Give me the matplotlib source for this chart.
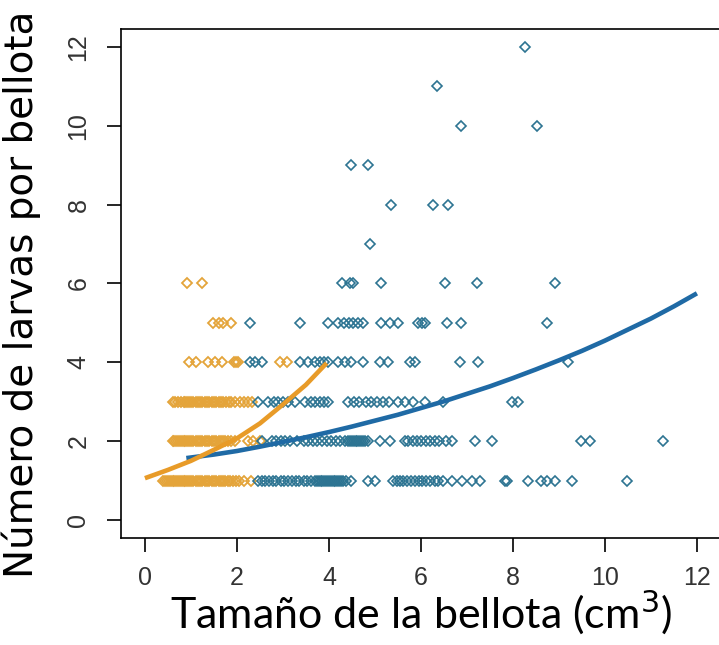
import matplotlib
matplotlib.use("Agg")
import matplotlib.pyplot as plt

# acorn size (cm3) of each point, grouped by number of larvae per acorn
orange_1 = [0.40, 0.44, 0.48, 0.52, 0.56, 0.60, 0.64, 0.68, 0.72, 0.76, 0.80, 0.84,
            0.88, 0.92, 0.96, 1.00, 1.05, 1.10, 1.15, 1.20, 1.25, 1.30, 1.35, 1.40,
            1.45, 1.50, 1.55, 1.60, 1.65, 1.70, 1.75, 1.80, 1.86, 1.92, 1.98, 2.05,
            2.15, 2.30]
orange_2 = [0.60, 0.64, 0.68, 0.72, 0.76, 0.80, 0.84, 0.88, 0.92, 0.96, 1.00, 1.05,
            1.10, 1.15, 1.20, 1.25, 1.30, 1.35, 1.40, 1.45, 1.50, 1.55, 1.60, 1.65,
            1.70, 1.75, 1.80, 1.87, 1.95, 2.25, 2.35, 2.50]
orange_3 = [0.60, 0.66, 0.72, 0.78, 0.84, 0.88, 0.92, 0.96, 1.00, 1.05, 1.10, 1.15,
            1.20, 1.25, 1.30, 1.35, 1.40, 1.45, 1.50, 1.55, 1.60, 1.65, 1.70, 1.76,
            1.82, 1.88, 1.95, 2.07, 2.15, 2.25, 2.33]
orange_4 = [0.96, 1.10, 1.38, 1.52, 1.67, 1.94, 1.98, 2.03, 2.93, 3.08]
orange_5 = [1.49, 1.62, 1.70, 1.88]
orange_6 = [0.91, 1.25]

blue_1 = [2.46, 2.55, 2.62, 2.70, 2.78, 2.85, 2.95, 3.02, 3.10, 3.20, 3.28, 3.35,
          3.45, 3.52, 3.60, 3.70, 3.74, 3.78, 3.82, 3.86, 3.90, 3.94, 3.98, 4.02,
          4.06, 4.10, 4.14, 4.18, 4.22, 4.26, 4.30, 4.38, 4.47, 4.86, 5.00, 5.40,
          5.47, 5.55, 5.62, 5.70, 5.78, 5.88, 5.95, 6.02, 6.10, 6.20, 6.30, 6.38,
          6.48, 6.67, 6.89, 7.11, 7.28, 7.83, 7.87, 8.33, 8.62, 8.73, 8.91, 9.28,
          10.47]
blue_2 = [2.55, 2.76, 2.85, 2.95, 3.05, 3.15, 3.30, 3.45, 3.55, 3.65, 3.75, 3.85,
          3.95, 4.05, 4.15, 4.25, 4.35, 4.42, 4.46, 4.50, 4.54, 4.58, 4.62, 4.66,
          4.70, 4.74, 4.78, 4.85, 5.11, 5.32, 5.65, 5.72, 5.82, 5.92, 6.00, 6.10,
          6.20, 6.30, 6.40, 6.55, 6.67, 7.17, 7.54, 9.49, 9.67, 11.27]
blue_3 = [2.46, 2.67, 2.80, 2.90, 3.00, 3.10, 3.26, 3.48, 3.60, 3.70, 3.80, 3.90,
          3.98, 4.41, 4.55, 4.65, 4.80, 4.92, 5.04, 5.18, 5.30, 5.50, 5.65, 5.83,
          6.09, 6.48, 7.98, 8.12]
blue_4 = [2.28, 2.39, 2.54, 3.37, 3.55, 3.70, 3.80, 3.90, 3.98, 4.20, 4.35, 4.49,
          4.75, 5.11, 5.29, 5.76, 5.87, 6.85, 7.25, 9.20]
blue_5 = [2.28, 3.37, 3.98, 4.20, 4.32, 4.44, 4.52, 4.63, 4.75, 5.14, 5.33, 5.50,
          5.93, 6.02, 6.09, 6.56, 6.88, 8.73]
blue_6 = [4.28, 4.45, 4.53, 5.14, 6.52, 7.21, 8.91]
blue_7 = [4.90]
blue_8 = [5.36, 6.27, 6.59]
blue_9 = [4.49, 4.84]
blue_10 = [6.88, 8.53]
blue_11 = [6.34]
blue_12 = [8.26]

# fitted curves
orange_fit_x = [0.0, 0.5, 1.0, 1.5, 2.0, 2.5, 3.0, 3.5, 3.95]
orange_fit_y = [1.06, 1.27, 1.50, 1.78, 2.07, 2.45, 2.93, 3.43, 3.98]
blue_fit_x = [0.9, 1.5, 2, 2.5, 3, 3.5, 4, 4.5, 5, 5.5, 6, 6.5, 7, 7.5, 8, 8.5,
              9, 9.5, 10, 10.5, 11, 11.5, 12]
blue_fit_y = [1.57, 1.66, 1.75, 1.86, 1.98, 2.10, 2.23, 2.37, 2.52, 2.67, 2.84,
              3.01, 3.20, 3.39, 3.60, 3.82, 4.05, 4.29, 4.55, 4.83, 5.11, 5.42, 5.75]

xticks = [0, 2, 4, 6, 8, 10, 12]
yticks = [0, 2, 4, 6, 8, 10, 12]

ORANGE = "#E89B28"
ORANGE_PT = "#E4A43A"
BLUE = "#1F6AA5"
BLUE_PT = "#2D7492"

orange_groups = [orange_1, orange_2, orange_3, orange_4, orange_5, orange_6]
blue_groups = [blue_1, blue_2, blue_3, blue_4, blue_5, blue_6, blue_7, blue_8,
               blue_9, blue_10, blue_11, blue_12]

fig = plt.figure(figsize=(7.19, 6.45), dpi=100)
ax = fig.add_axes([121 / 719, 107 / 645, 598 / 719, 509 / 645])

for n, xs in enumerate(orange_groups, start=1):
    ax.plot(xs, [n] * len(xs), linestyle="none", marker="D", markersize=5.0,
            markerfacecolor="none", markeredgecolor=ORANGE_PT, markeredgewidth=1.3)
for n, xs in enumerate(blue_groups, start=1):
    ax.plot(xs, [n] * len(xs), linestyle="none", marker="D", markersize=5.0,
            markerfacecolor="none", markeredgecolor=BLUE_PT, markeredgewidth=1.2)

ax.plot(blue_fit_x, blue_fit_y, color=BLUE, lw=3.3, solid_capstyle="butt")
ax.plot(orange_fit_x, orange_fit_y, color=ORANGE, lw=3.3, solid_capstyle="butt")

ax.set_xlim(-0.52, 12.48)
ax.set_ylim(-0.457, 12.456)
ax.spines["right"].set_visible(False)
for s in ["left", "bottom", "top"]:
    ax.spines[s].set_linewidth(1.2)

tick_font = ["Liberation Sans Narrow", "Liberation Sans", "DejaVu Sans"]
ax.set_xticks(xticks)
ax.set_yticks(yticks)
ax.set_xticklabels([str(t) for t in xticks], family=tick_font, fontsize=18, color="#333333")
ax.set_yticklabels([str(t) for t in yticks], family=tick_font, fontsize=18, color="#333333",
                   rotation=90, va="center")
ax.tick_params(axis="both", direction="out", length=10, width=1.2)
ax.tick_params(axis="x", pad=10)
ax.tick_params(axis="y", pad=12)

fig.text(0.585, 0.012, "Tamaño de la bellota (cm$^3$)", family=["Lato", "DejaVu Sans"],
         fontsize=31, ha="center", va="bottom")
fig.text(0.002, 0.543, "Número de larvas por bellota", family=["DejaVu Sans"],
         fontsize=28, rotation=90, ha="left", va="center")

fig.savefig("out.png", dpi=100)
